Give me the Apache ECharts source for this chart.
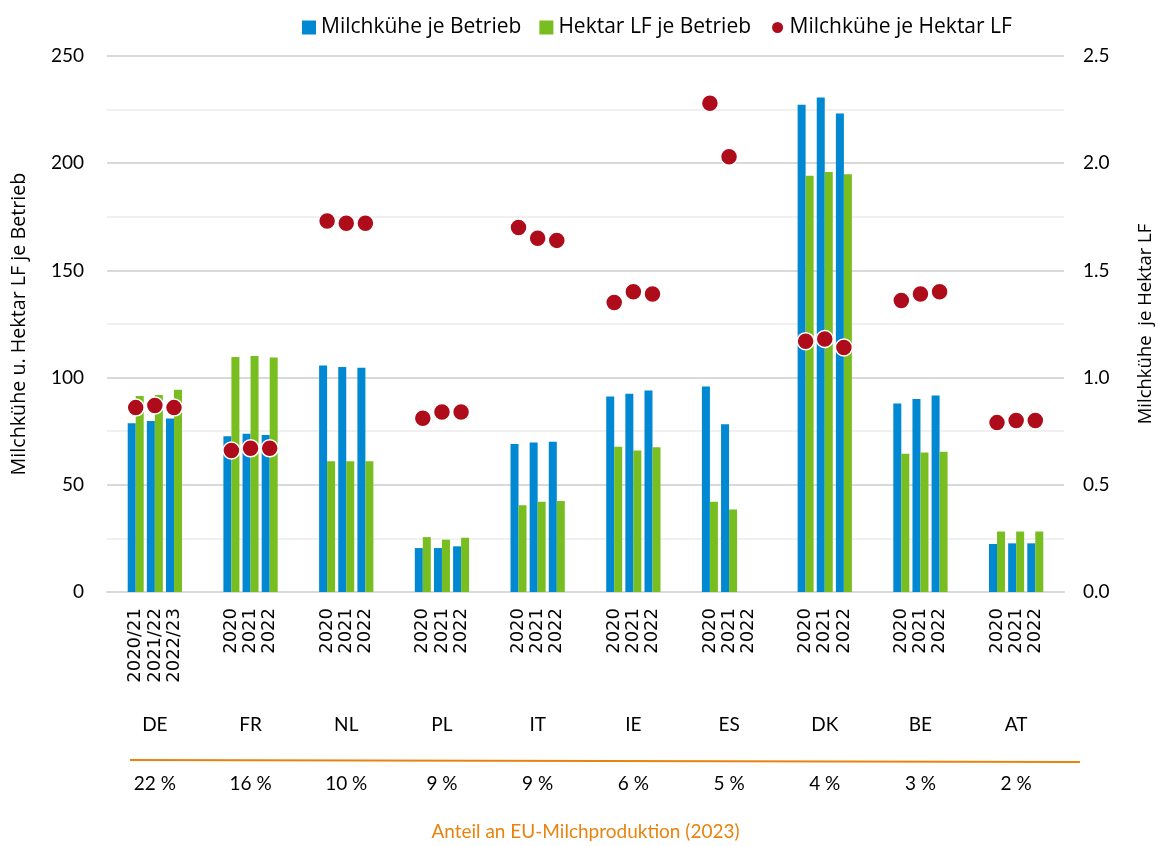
<!DOCTYPE html>
<html>
<head>
<meta charset="utf-8">
<script src="https://cdn.jsdelivr.net/npm/echarts@6/dist/echarts.min.js"></script>
<style>
html,body{margin:0;padding:0;background:#fff;}
#chart{width:1163px;height:846px;}
</style>
</head>
<body>
<div id="chart"></div>
<script>
// ---- data ----
const countries = ['DE','FR','NL','PL','IT','IE','ES','DK','BE','AT'];
const shares = ['22 %','16 %','10 %','9 %','9 %','6 %','5 %','4 %','3 %','2 %'];
const yearsDE = ['2020/21','2021/22','2022/23'];
const yearsOther = ['2020','2021','2022'];
const cowsPerFarm = [
  [78.7,79.7,80.9],[72.6,73.8,73.2],[105.7,104.9,104.6],[20.5,20.5,21.3],[69.0,69.7,70.1],
  [91.2,92.5,94.0],[95.9,78.2,null],[227.3,230.6,223.2],[87.9,90.0,91.7],[22.4,22.7,22.7]
];
const haPerFarm = [
  [91.4,91.9,94.3],[109.6,110.1,109.4],[61.0,61.0,61.0],[25.6,24.4,25.3],[40.5,42.1,42.5],
  [67.8,66.0,67.5],[42.1,38.5,null],[194.1,195.9,194.9],[64.5,65.1,65.4],[28.2,28.2,28.2]
];
const cowsPerHa = [
  [0.86,0.87,0.86],[0.66,0.67,0.67],[1.73,1.72,1.72],[0.81,0.84,0.84],[1.70,1.65,1.64],
  [1.35,1.40,1.39],[2.28,2.03,null],[1.17,1.18,1.14],[1.36,1.39,1.40],[0.79,0.80,0.80]
];
const leftTicks = {min:0,max:250,interval:50};
const rightTicks = {min:0,max:2.5,interval:0.5};

// ---- build slot arrays (gap, y1, y2, y3, gap per country) ----
const slots = [], sBlue = [], sGreen = [], sRed = [];
countries.forEach((c, i) => {
  const yl = i === 0 ? yearsDE : yearsOther;
  slots.push('g' + i + 'a'); sBlue.push(null); sGreen.push(null); sRed.push(null);
  for (let k = 0; k < 3; k++) {
    slots.push(yl[k] + '|' + i + k);
    sBlue.push(cowsPerFarm[i][k]);
    sGreen.push(haPerFarm[i][k]);
    sRed.push(cowsPerHa[i][k]);
  }
  slots.push('g' + i + 'b'); sBlue.push(null); sGreen.push(null); sRed.push(null);
});

const F = 'Lato, "Liberation Sans", sans-serif';
const FO = '"Open Sans", sans-serif';
const chart = echarts.init(document.getElementById('chart'));
chart.setOption({
  animation: false,
  textStyle: {fontFamily: F},
  grid: {left: 107, right: 93, top: 56, bottom: 250},
  legend: {
    top: 12, left: 297,
    itemWidth: 14, itemHeight: 14, itemGap: 18,
    textStyle: {fontSize: 21, color: '#000', fontFamily: FO},
    data: [
      {name: 'Milchkühe je Betrieb', icon: 'rect'},
      {name: 'Hektar LF je Betrieb', icon: 'rect'},
      {name: 'Milchkühe je Hektar LF', icon: 'circle', itemStyle: {borderColor: '#fff', borderWidth: 3}}
    ]
  },
  xAxis: [
    {
      type: 'category', data: slots,
      axisLine: {show: true, lineStyle: {color: '#d9d9d9', width: 2}},
      axisTick: {show: false},
      axisLabel: {
        rotate: 90, interval: 0, margin: 16, fontSize: 18, color: '#000',
        fontFamily: '"DejaVu Sans", sans-serif',
        formatter: v => v.indexOf('|') >= 0 ? v.split('|')[0] : ''
      }
    },
    {
      type: 'category', data: countries, position: 'bottom',
      axisLine: {show: false}, axisTick: {show: false}, splitLine: {show: false},
      axisLabel: {margin: 123, fontSize: 19, color: '#000', fontFamily: F}
    },
    {
      type: 'category', data: shares, position: 'bottom',
      axisLine: {show: false}, axisTick: {show: false}, splitLine: {show: false},
      axisLabel: {margin: 182, fontSize: 19, color: '#000', fontFamily: F},
      name: 'Anteil an EU-Milchproduktion (2023)', nameLocation: 'middle', nameGap: 230,
      nameTextStyle: {fontSize: 19, color: '#E8830E', fontFamily: F}
    }
  ],
  yAxis: [
    {
      type: 'value', min: leftTicks.min, max: leftTicks.max, interval: leftTicks.interval,
      axisLine: {show: false}, axisTick: {show: false},
      axisLabel: {fontSize: 19, color: '#000', margin: 23, fontFamily: F},
      splitLine: {lineStyle: {color: '#d9d9d9', width: 2}},
      minorTick: {show: false, splitNumber: 2},
      minorSplitLine: {show: true, lineStyle: {color: '#f0f0f0', width: 2}},
      name: 'Milchkühe u. Hektar LF je Betrieb', nameLocation: 'middle', nameRotate: 90, nameGap: 78,
      nameTextStyle: {fontSize: 19.7, color: '#000', fontFamily: FO}
    },
    {
      type: 'value', min: rightTicks.min, max: rightTicks.max, interval: rightTicks.interval,
      position: 'right',
      axisLine: {show: false}, axisTick: {show: false}, splitLine: {show: false},
      axisLabel: {fontSize: 19, color: '#000', margin: 19, fontFamily: F, formatter: v => v.toFixed(1)},
      name: 'Milchkühe  je Hektar LF', nameLocation: 'middle', nameRotate: 90, nameGap: 72,
      nameTextStyle: {fontSize: 18.5, color: '#000', fontFamily: FO}
    }
  ],
  graphic: [{
    type: 'line', z: 10,
    shape: {x1: 130, y1: 760, x2: 1080, y2: 762},
    style: {stroke: '#E8830E', lineWidth: 2}
  }],
  series: [
    {
      name: 'Milchkühe je Betrieb', type: 'bar', xAxisIndex: 0, yAxisIndex: 0,
      data: sBlue, barWidth: 8, barGap: '0%',
      itemStyle: {color: '#0089D2'}
    },
    {
      name: 'Hektar LF je Betrieb', type: 'bar', xAxisIndex: 0, yAxisIndex: 0,
      data: sGreen, barWidth: 8, barGap: '0%',
      itemStyle: {color: '#78BE20'}
    },
    {
      name: 'Milchkühe je Hektar LF', type: 'scatter', xAxisIndex: 0, yAxisIndex: 1,
      data: sRed, symbol: 'circle', symbolSize: 17, z: 5,
      itemStyle: {color: '#AE0C1A', opacity: 1, borderColor: '#fff', borderWidth: 1.5}
    }
  ]
});
</script>
</body>
</html>
